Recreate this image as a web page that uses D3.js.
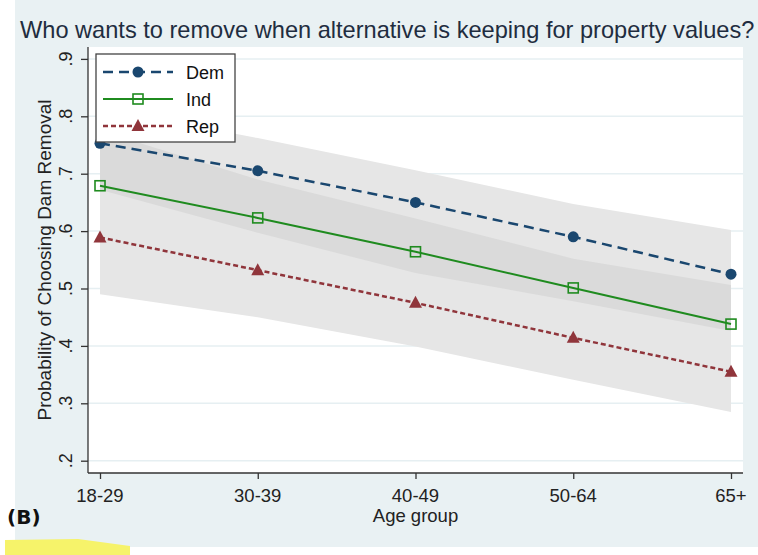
<!DOCTYPE html>
<html>
<head>
<meta charset="utf-8">
<script src="https://cdn.jsdelivr.net/npm/d3@7"></script>
<style>
  html, body { margin: 0; padding: 0; background: #fff; }
  svg { display: block; }
</style>
</head>
<body>
<div id="chart"></div>
<script>
// age groups on the x axis
const ages = ['18-29', '30-39', '40-49', '50-64', '65+'];

// predicted probabilities per party
const dem = [0.753, 0.705, 0.650, 0.590, 0.525];
const ind = [0.679, 0.623, 0.564, 0.501, 0.438];
const rep = [0.589, 0.532, 0.475, 0.414, 0.355];

// confidence shading (outer = union of the bands, inner = overlap)
const outerLo = [0.490, 0.450, 0.399, 0.341, 0.285];
const outerHi = [0.815, 0.762, 0.706, 0.647, 0.602];
const innerLo = [0.672, 0.597, 0.527, 0.478, 0.426];
const innerHi = [0.775, 0.690, 0.622, 0.552, 0.506];

const yTicks = [0.2, 0.3, 0.4, 0.5, 0.6, 0.7, 0.8, 0.9];
const yTickLabels = ['.2', '.3', '.4', '.5', '.6', '.7', '.8', '.9'];

const width = 758, height = 555;
const plot = { left: 88, right: 743, top: 47, bottom: 473 };
const font = '"Liberation Sans", Arial, sans-serif';

const svg = d3.select('#chart').append('svg')
  .attr('width', width)
  .attr('height', height);

// slide / graph background
svg.append('rect')
  .attr('x', 15).attr('y', 0)
  .attr('width', width - 15).attr('height', 547)
  .attr('fill', '#e9f1f3');

// highlighter mark under the panel label
svg.append('path')
  .attr('d', 'M5,540 L78,539 L130,546 L130,555 L5,555 Z')
  .attr('fill', '#f6f36a');

svg.append('rect')
  .attr('x', plot.left).attr('y', plot.top)
  .attr('width', plot.right - plot.left).attr('height', plot.bottom - plot.top)
  .attr('fill', '#fff');

const x = d3.scalePoint()
  .domain(ages)
  .range([100, 731]);

const y = d3.scaleLinear()
  .domain([0.2, 0.9])
  .range([460.7, 58.9]);

// gridlines
svg.append('g')
  .selectAll('line')
  .data(yTicks)
  .enter().append('line')
  .attr('x1', plot.left).attr('x2', plot.right)
  .attr('y1', d => y(d)).attr('y2', d => y(d))
  .attr('stroke', '#e6eff2')
  .attr('stroke-width', 1.5);

// bands
function band(lo, hi) {
  return d3.area()
    .x((d, i) => x(ages[i]))
    .y0((d, i) => y(lo[i]))
    .y1((d, i) => y(hi[i]))(ages);
}

svg.append('path')
  .attr('d', band(outerLo, outerHi))
  .attr('fill', '#e6e6e6');

svg.append('path')
  .attr('d', band(innerLo, innerHi))
  .attr('fill', '#dadada');

// axes
const yAxis = svg.append('g')
  .attr('transform', `translate(${plot.left},0)`)
  .call(d3.axisLeft(y).tickValues(yTicks).tickSize(7).tickFormat(''));
yAxis.select('.domain').attr('d', `M0,${plot.top}V${plot.bottom}`);

const xAxis = svg.append('g')
  .attr('transform', `translate(0,${plot.bottom})`)
  .call(d3.axisBottom(x).tickSize(6).tickFormat(''));
xAxis.select('.domain').attr('d', `M${plot.left},0H${plot.right}`);

svg.selectAll('.domain, .tick line')
  .attr('stroke', '#333')
  .attr('stroke-width', 1.3);

// y tick labels, rotated like Stata does
svg.append('g')
  .selectAll('text')
  .data(yTicks)
  .enter().append('text')
  .attr('transform', d => `translate(72,${y(d)}) rotate(-90)`)
  .attr('text-anchor', 'middle')
  .attr('font-family', font)
  .attr('font-size', 18)
  .attr('fill', '#222')
  .text((d, i) => yTickLabels[i]);

// x tick labels
svg.append('g')
  .selectAll('text')
  .data(ages)
  .enter().append('text')
  .attr('x', d => x(d))
  .attr('y', 502)
  .attr('text-anchor', 'middle')
  .attr('font-family', font)
  .attr('font-size', 18.5)
  .attr('fill', '#222')
  .text(d => d);

svg.append('text')
  .attr('x', x('40-49'))
  .attr('y', 522)
  .attr('text-anchor', 'middle')
  .attr('font-family', font)
  .attr('font-size', 18.5)
  .attr('fill', '#222')
  .text('Age group');

svg.append('text')
  .attr('transform', `translate(51,${(plot.top + plot.bottom) / 2}) rotate(-90)`)
  .attr('text-anchor', 'middle')
  .attr('font-family', font)
  .attr('font-size', 19)
  .attr('fill', '#222')
  .text('Probability of Choosing Dam Removal');

// title
svg.append('text')
  .attr('x', 20)
  .attr('y', 38)
  .attr('font-family', font)
  .attr('font-size', 23.6)
  .attr('fill', '#1f2d40')
  .text('Who wants to remove when alternative is keeping for property values?');

svg.append('text')
  .attr('x', 7)
  .attr('y', 524)
  .attr('font-family', '"DejaVu Sans", sans-serif')
  .attr('font-weight', 'bold')
  .attr('font-size', 20)
  .attr('fill', '#111')
  .text('(B)');

// series
const series = [
  { name: 'Dem', values: dem, color: '#1a476f', dash: '10,6', width: 2.5, marker: 'circle' },
  { name: 'Ind', values: ind, color: '#1f8b1f', dash: null, width: 2, marker: 'square' },
  { name: 'Rep', values: rep, color: '#90353b', dash: '5,3', width: 2.5, marker: 'triangle' }
];

const line = d3.line()
  .x((d, i) => x(ages[i]))
  .y(d => y(d));

function drawMarker(g, type, color, cx, cy) {
  if (type === 'circle') {
    g.append('circle')
      .attr('cx', cx).attr('cy', cy).attr('r', 5.5)
      .attr('fill', color);
  } else if (type === 'square') {
    g.append('rect')
      .attr('x', cx - 5).attr('y', cy - 5)
      .attr('width', 10).attr('height', 10)
      .attr('fill', 'none')
      .attr('stroke', color)
      .attr('stroke-width', 1.6);
  } else {
    g.append('path')
      .attr('d', `M${cx},${cy - 7}L${cx + 6.5},${cy + 5}L${cx - 6.5},${cy + 5}Z`)
      .attr('fill', color);
  }
}

series.forEach(s => {
  svg.append('path')
    .datum(s.values)
    .attr('d', line)
    .attr('fill', 'none')
    .attr('stroke', s.color)
    .attr('stroke-width', s.width)
    .attr('stroke-dasharray', s.dash);

  const g = svg.append('g');
  s.values.forEach((v, i) => drawMarker(g, s.marker, s.color, x(ages[i]), y(v)));
});

// legend
const legend = svg.append('g');
legend.append('rect')
  .attr('x', 96).attr('y', 54)
  .attr('width', 139).attr('height', 88)
  .attr('fill', '#fff')
  .attr('stroke', '#444')
  .attr('stroke-width', 1.3);

series.forEach((s, i) => {
  const ly = 72 + i * 27;
  legend.append('line')
    .attr('x1', 103).attr('x2', 173)
    .attr('y1', ly).attr('y2', ly)
    .attr('stroke', s.color)
    .attr('stroke-width', s.width)
    .attr('stroke-dasharray', s.dash);
  drawMarker(legend, s.marker, s.color, 138, ly);
  legend.append('text')
    .attr('x', 186)
    .attr('y', ly + 6.5)
    .attr('font-family', font)
    .attr('font-size', 18)
    .attr('fill', '#111')
    .text(s.name);
});
</script>
</body>
</html>
